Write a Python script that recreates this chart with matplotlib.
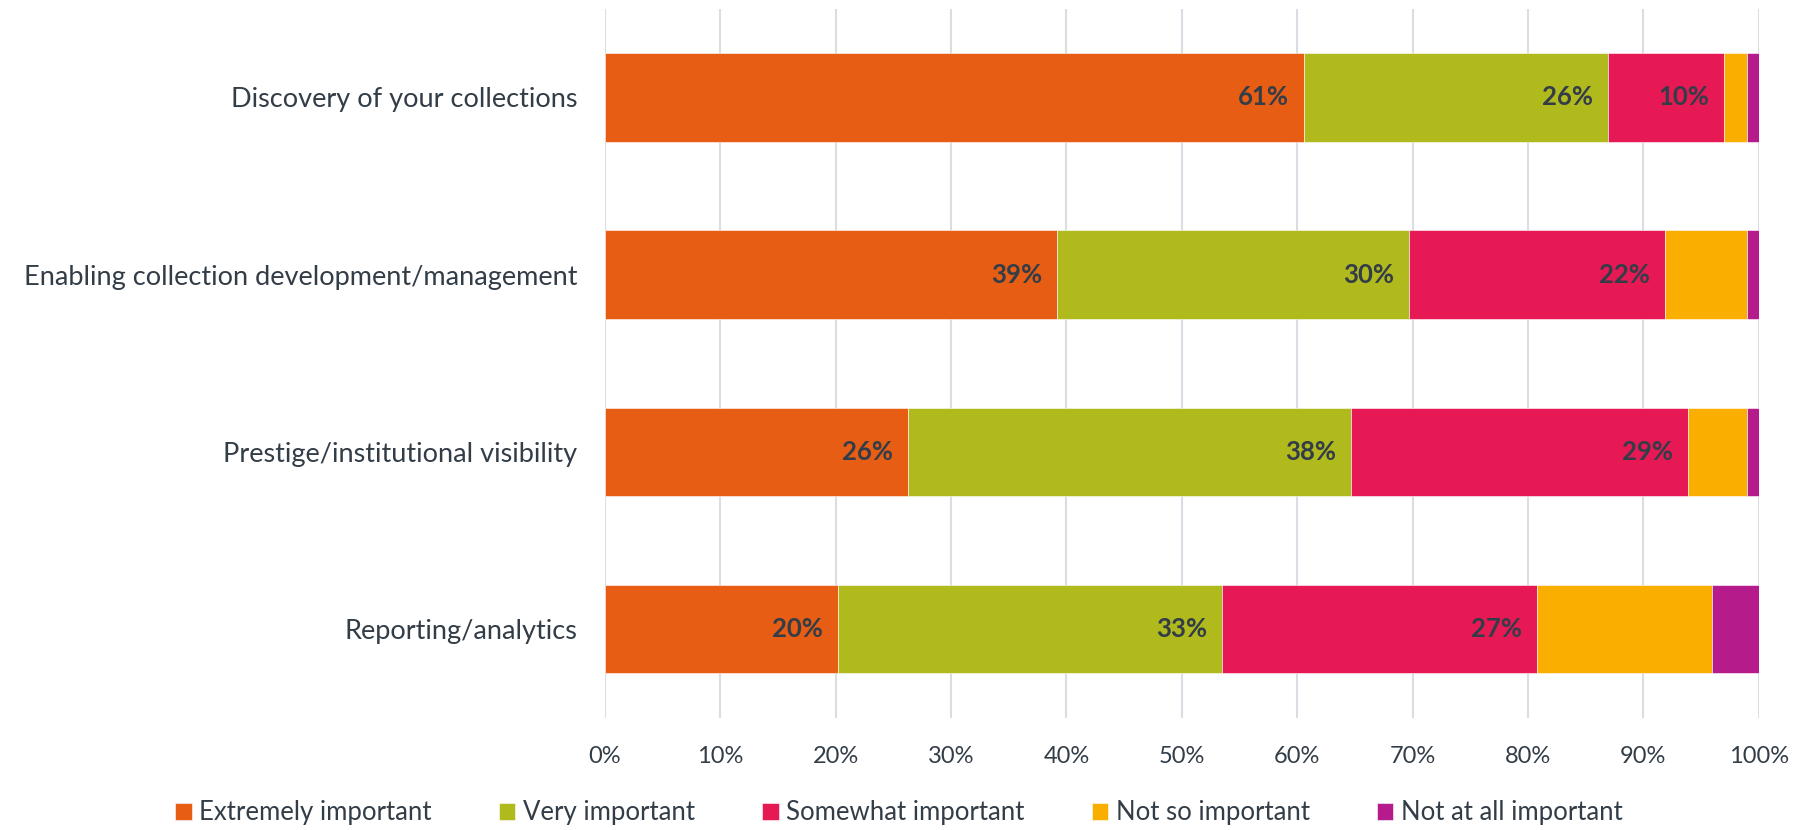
import matplotlib
matplotlib.use('Agg')
import matplotlib.pyplot as plt
import numpy as np

plt.rcParams['font.family'] = ['Lato', 'DejaVu Sans']

categories = ['Discovery of your collections',
              'Enabling collection development/management',
              'Prestige/institutional visibility',
              'Reporting/analytics']
series = ['Extremely important', 'Very important', 'Somewhat important',
          'Not so important', 'Not at all important']
extremely = [60.6, 39.2, 26.3, 20.2]
very = [26.3, 30.5, 38.4, 33.3]
somewhat = [10.1, 22.2, 29.2, 27.3]
not_so = [2.0, 7.1, 5.1, 15.2]
not_at_all = [1.0, 1.0, 1.0, 4.0]
labels_shown = [True, True, True, False, False]

colors = ['#E85D14', '#B1BA1D', '#E61955', '#F9AE00', '#B61B8C']
text_color = '#333D47'

fig = plt.figure(figsize=(17.98, 8.30), dpi=100)
ax = fig.add_axes([0.3365, 0.1352, 0.9781 - 0.3365, 0.9893 - 0.1352])

y = np.arange(len(categories))
left = np.zeros(len(categories))
for name, vals, col, show in zip(series, [extremely, very, somewhat, not_so, not_at_all],
                                 colors, labels_shown):
    vals = np.array(vals)
    ax.barh(y, vals, left=left, height=0.5, color=col, label=name,
            edgecolor='white', linewidth=0.4, zorder=3)
    if show:
        for yi, l, v in zip(y, left, vals):
            ax.text(l + v - 1.3, yi, f'{v:.0f}%', ha='right', va='center',
                    fontsize=18.5, fontweight='bold', color=text_color, zorder=4)
    left += vals

ax.set_xlim(0, 100)
ax.set_ylim(len(categories) - 0.5, -0.5)
ax.set_yticks(y)
ax.set_yticklabels(categories, fontsize=19.5, color=text_color)
ax.set_xticks(np.arange(0, 101, 10))
ax.set_xticklabels([f'{v}%' for v in range(0, 101, 10)], fontsize=17, color=text_color)
ax.tick_params(axis='both', length=0)
ax.tick_params(axis='y', pad=20)
ax.tick_params(axis='x', pad=20)
ax.grid(axis='x', color='#D9DEE4', linewidth=1.5, zorder=0)
for s in ax.spines.values():
    s.set_visible(False)

fig.legend(loc='lower center', bbox_to_anchor=(0.5, -0.022), ncol=5, frameon=False,
           fontsize=18.5, handlelength=0.65, handleheight=0.65, handletextpad=0.3,
           columnspacing=2.6, labelcolor=text_color)

fig.savefig('out.png', dpi=100)
